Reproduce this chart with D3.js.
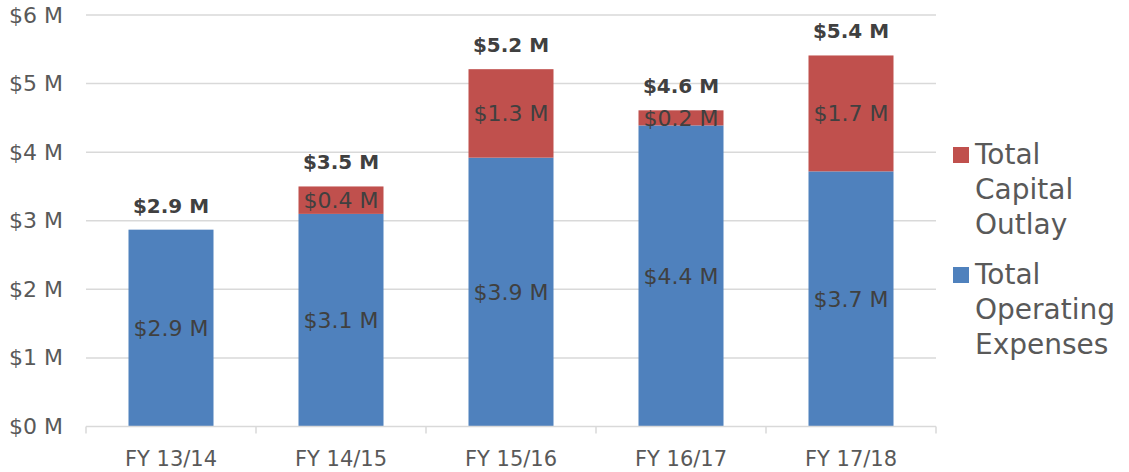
<!DOCTYPE html>
<html>
<head>
<meta charset="utf-8">
<script src="https://cdn.jsdelivr.net/npm/d3@7"></script>
<style>
  html, body { margin: 0; padding: 0; background: #fff; }
  svg { display: block; font-family: "DejaVu Sans", sans-serif; }
</style>
</head>
<body>
<svg id="chart" width="1129" height="472"></svg>
<script>
// Fiscal years shown on the x axis
const categories = ["FY 13/14", "FY 14/15", "FY 15/16", "FY 16/17", "FY 17/18"];
// Spending in millions of dollars
const operatingExpenses = [2.87, 3.10, 3.92, 4.39, 3.72];
const capitalOutlay = [0.00, 0.40, 1.29, 0.22, 1.69];
// Axis ticks
const yTicks = [0, 1, 2, 3, 4, 5, 6];
const seriesNames = ["Total Capital Outlay", "Total Operating Expenses"];
const legendLines = [["Total", "Capital", "Outlay"], ["Total", "Operating", "Expenses"]];

const colors = { op: "#4F81BD", cap: "#C0504D" };
const fmt = v => `$${v.toFixed(1)} M`;

const svg = d3.select("#chart");
const plot = { left: 86, right: 936, top: 15, bottom: 426.5 };

const x = d3.scaleBand()
  .domain(categories)
  .range([plot.left, plot.right])
  .paddingInner(0.5)
  .paddingOuter(0.25);

const y = d3.scaleLinear()
  .domain([0, 6])
  .range([plot.bottom, plot.top]);

// Horizontal gridlines
svg.append("g")
  .selectAll("line")
  .data(yTicks.filter(d => d > 0))
  .join("line")
  .attr("x1", plot.left).attr("x2", plot.right)
  .attr("y1", d => y(d)).attr("y2", d => y(d))
  .attr("stroke", "#d9d9d9").attr("stroke-width", 1.5);

// Y axis labels
const yAxis = svg.append("g")
  .attr("transform", `translate(${plot.left - 23},0)`)
  .call(d3.axisLeft(y).tickValues(yTicks).tickSize(0).tickPadding(0).tickFormat(d => `$${d} M`));
yAxis.select(".domain").remove();
yAxis.selectAll("text")
  .attr("fill", "#595959")
  .attr("font-size", 22)
  .attr("font-family", "DejaVu Sans, sans-serif");

const rows = categories.map((c, i) => ({
  cat: c, op: operatingExpenses[i], cap: capitalOutlay[i], total: operatingExpenses[i] + capitalOutlay[i]
}));

// Stacked bars: operating expenses at the base, capital outlay on top
const bars = svg.append("g");
bars.selectAll("rect.op")
  .data(rows)
  .join("rect")
  .attr("class", "op")
  .attr("x", d => x(d.cat))
  .attr("width", x.bandwidth())
  .attr("y", d => y(d.op))
  .attr("height", d => y(0) - y(d.op))
  .attr("fill", colors.op);

bars.selectAll("rect.cap")
  .data(rows.filter(d => d.cap > 0))
  .join("rect")
  .attr("class", "cap")
  .attr("x", d => x(d.cat))
  .attr("width", x.bandwidth())
  .attr("y", d => y(d.total))
  .attr("height", d => y(d.op) - y(d.total))
  .attr("fill", colors.cap);

// X axis line and category separators
svg.append("line")
  .attr("x1", plot.left).attr("x2", plot.right)
  .attr("y1", plot.bottom).attr("y2", plot.bottom)
  .attr("stroke", "#d9d9d9").attr("stroke-width", 1.5);

const boundaries = d3.range(categories.length + 1).map(i => plot.left + i * x.step());
svg.append("g")
  .selectAll("line")
  .data(boundaries)
  .join("line")
  .attr("x1", d => d).attr("x2", d => d)
  .attr("y1", plot.bottom).attr("y2", plot.bottom + 7)
  .attr("stroke", "#d9d9d9").attr("stroke-width", 1.5);

const xAxis = svg.append("g")
  .attr("transform", `translate(0,${plot.bottom})`)
  .call(d3.axisBottom(x).tickSize(0).tickPadding(0));
xAxis.select(".domain").remove();
xAxis.selectAll("text")
  .attr("y", 39).attr("dy", null)
  .attr("fill", "#595959")
  .attr("font-size", 21)
  .attr("font-family", "DejaVu Sans, sans-serif");

// Segment value labels
const labels = svg.append("g")
  .attr("font-size", 22)
  .attr("fill", "#404040")
  .attr("text-anchor", "middle");

labels.selectAll("text.op")
  .data(rows)
  .join("text")
  .attr("x", d => x(d.cat) + x.bandwidth() / 2)
  .attr("y", d => (y(0) + y(d.op)) / 2)
  .attr("dy", "0.36em")
  .text(d => fmt(d.op));

labels.selectAll("text.cap")
  .data(rows.filter(d => d.cap > 0))
  .join("text")
  .attr("x", d => x(d.cat) + x.bandwidth() / 2)
  .attr("y", d => (y(d.op) + y(d.total)) / 2)
  .attr("dy", "0.36em")
  .text(d => fmt(d.cap));

// Totals above each bar
svg.append("g")
  .attr("font-size", 20)
  .attr("font-weight", "bold")
  .attr("fill", "#404040")
  .attr("text-anchor", "middle")
  .selectAll("text")
  .data(rows)
  .join("text")
  .attr("x", d => x(d.cat) + x.bandwidth() / 2)
  .attr("y", d => y(d.total) - 17)
  .text(d => fmt(d.total));

// Legend
const legend = svg.append("g");
const legendItems = [
  { name: seriesNames[0], lines: legendLines[0], color: colors.cap, top: 147 },
  { name: seriesNames[1], lines: legendLines[1], color: colors.op, top: 267 }
];
legendItems.forEach(item => {
  const g = legend.append("g");
  g.append("rect")
    .attr("x", 953).attr("y", item.top)
    .attr("width", 16).attr("height", 16)
    .attr("fill", item.color);
  g.append("text")
    .attr("font-size", 28)
    .attr("fill", "#595959")
    .selectAll("tspan")
    .data(item.lines)
    .join("tspan")
    .attr("x", 975)
    .attr("y", (d, i) => item.top + 17 + i * 35)
    .text(d => d);
});
</script>
</body>
</html>
